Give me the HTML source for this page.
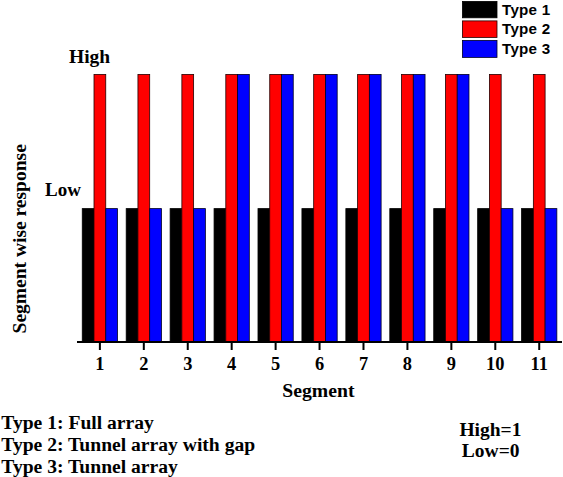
<!DOCTYPE html>
<html><head><meta charset="utf-8"><style>
html,body{margin:0;padding:0;background:#fff;}
body{width:563px;height:477px;overflow:hidden;position:relative;}
svg{position:absolute;left:0;top:0;}
.s{font-family:"Liberation Serif",serif;font-weight:bold;fill:#000;}
.a{font-family:"Liberation Sans",sans-serif;font-weight:bold;fill:#000;}
</style></head><body>
<svg width="563" height="477" viewBox="0 0 563 477">
<rect x="462.4" y="1.4" width="34.6" height="16.4" fill="#000" stroke="#000" stroke-width="0.8"/>
<rect x="462.4" y="20.9" width="34.6" height="16.5" fill="#f00" stroke="#200" stroke-width="0.8"/>
<rect x="462.4" y="40.4" width="34.6" height="17" fill="#00f" stroke="#002" stroke-width="0.8"/>
<text x="502" y="14.6" class="a" font-size="15.2" letter-spacing="0.25">Type 1</text>
<text x="502" y="34.3" class="a" font-size="15.2" letter-spacing="0.25">Type 2</text>
<text x="502" y="54" class="a" font-size="15.2" letter-spacing="0.25">Type 3</text>
<text x="69" y="63" class="s" font-size="19.5">High</text>
<text x="45" y="195.6" class="s" font-size="19">Low</text>
<text transform="translate(26,238.8) rotate(-90)" class="s" font-size="19.5" text-anchor="middle">Segment wise response</text>
<rect x="82.25" y="208.6" width="11.75" height="132.80" fill="#000" stroke="#000" stroke-width="0.8"/>
<rect x="94.00" y="74.4" width="11.75" height="267.00" fill="#f00" stroke="#200" stroke-width="0.8"/>
<rect x="105.75" y="208.6" width="11.75" height="132.80" fill="#00f" stroke="#002" stroke-width="0.8"/>
<rect x="126.19" y="208.6" width="11.75" height="132.80" fill="#000" stroke="#000" stroke-width="0.8"/>
<rect x="137.94" y="74.4" width="11.75" height="267.00" fill="#f00" stroke="#200" stroke-width="0.8"/>
<rect x="149.69" y="208.6" width="11.75" height="132.80" fill="#00f" stroke="#002" stroke-width="0.8"/>
<rect x="170.12" y="208.6" width="11.75" height="132.80" fill="#000" stroke="#000" stroke-width="0.8"/>
<rect x="181.87" y="74.4" width="11.75" height="267.00" fill="#f00" stroke="#200" stroke-width="0.8"/>
<rect x="193.62" y="208.6" width="11.75" height="132.80" fill="#00f" stroke="#002" stroke-width="0.8"/>
<rect x="214.06" y="208.6" width="11.75" height="132.80" fill="#000" stroke="#000" stroke-width="0.8"/>
<rect x="225.81" y="74.4" width="11.75" height="267.00" fill="#f00" stroke="#200" stroke-width="0.8"/>
<rect x="237.56" y="74.4" width="11.75" height="267.00" fill="#00f" stroke="#002" stroke-width="0.8"/>
<rect x="257.99" y="208.6" width="11.75" height="132.80" fill="#000" stroke="#000" stroke-width="0.8"/>
<rect x="269.74" y="74.4" width="11.75" height="267.00" fill="#f00" stroke="#200" stroke-width="0.8"/>
<rect x="281.49" y="74.4" width="11.75" height="267.00" fill="#00f" stroke="#002" stroke-width="0.8"/>
<rect x="301.93" y="208.6" width="11.75" height="132.80" fill="#000" stroke="#000" stroke-width="0.8"/>
<rect x="313.68" y="74.4" width="11.75" height="267.00" fill="#f00" stroke="#200" stroke-width="0.8"/>
<rect x="325.43" y="74.4" width="11.75" height="267.00" fill="#00f" stroke="#002" stroke-width="0.8"/>
<rect x="345.86" y="208.6" width="11.75" height="132.80" fill="#000" stroke="#000" stroke-width="0.8"/>
<rect x="357.61" y="74.4" width="11.75" height="267.00" fill="#f00" stroke="#200" stroke-width="0.8"/>
<rect x="369.36" y="74.4" width="11.75" height="267.00" fill="#00f" stroke="#002" stroke-width="0.8"/>
<rect x="389.80" y="208.6" width="11.75" height="132.80" fill="#000" stroke="#000" stroke-width="0.8"/>
<rect x="401.55" y="74.4" width="11.75" height="267.00" fill="#f00" stroke="#200" stroke-width="0.8"/>
<rect x="413.30" y="74.4" width="11.75" height="267.00" fill="#00f" stroke="#002" stroke-width="0.8"/>
<rect x="433.73" y="208.6" width="11.75" height="132.80" fill="#000" stroke="#000" stroke-width="0.8"/>
<rect x="445.48" y="74.4" width="11.75" height="267.00" fill="#f00" stroke="#200" stroke-width="0.8"/>
<rect x="457.23" y="74.4" width="11.75" height="267.00" fill="#00f" stroke="#002" stroke-width="0.8"/>
<rect x="477.67" y="208.6" width="11.75" height="132.80" fill="#000" stroke="#000" stroke-width="0.8"/>
<rect x="489.42" y="74.4" width="11.75" height="267.00" fill="#f00" stroke="#200" stroke-width="0.8"/>
<rect x="501.17" y="208.6" width="11.75" height="132.80" fill="#00f" stroke="#002" stroke-width="0.8"/>
<rect x="521.60" y="208.6" width="11.75" height="132.80" fill="#000" stroke="#000" stroke-width="0.8"/>
<rect x="533.35" y="74.4" width="11.75" height="267.00" fill="#f00" stroke="#200" stroke-width="0.8"/>
<rect x="545.10" y="208.6" width="11.75" height="132.80" fill="#00f" stroke="#002" stroke-width="0.8"/>
<rect x="77.0" y="341.0" width="485.0" height="2.0" fill="#000"/>
<rect x="98.88" y="342.0" width="2" height="8.0" fill="#000"/>
<text x="99.88" y="370.1" class="s" font-size="18.4" text-anchor="middle">1</text>
<rect x="142.81" y="342.0" width="2" height="8.0" fill="#000"/>
<text x="143.81" y="370.1" class="s" font-size="18.4" text-anchor="middle">2</text>
<rect x="186.75" y="342.0" width="2" height="8.0" fill="#000"/>
<text x="187.75" y="370.1" class="s" font-size="18.4" text-anchor="middle">3</text>
<rect x="230.68" y="342.0" width="2" height="8.0" fill="#000"/>
<text x="231.68" y="370.1" class="s" font-size="18.4" text-anchor="middle">4</text>
<rect x="274.62" y="342.0" width="2" height="8.0" fill="#000"/>
<text x="275.62" y="370.1" class="s" font-size="18.4" text-anchor="middle">5</text>
<rect x="318.55" y="342.0" width="2" height="8.0" fill="#000"/>
<text x="319.55" y="370.1" class="s" font-size="18.4" text-anchor="middle">6</text>
<rect x="362.49" y="342.0" width="2" height="8.0" fill="#000"/>
<text x="363.49" y="370.1" class="s" font-size="18.4" text-anchor="middle">7</text>
<rect x="406.42" y="342.0" width="2" height="8.0" fill="#000"/>
<text x="407.42" y="370.1" class="s" font-size="18.4" text-anchor="middle">8</text>
<rect x="450.36" y="342.0" width="2" height="8.0" fill="#000"/>
<text x="451.36" y="370.1" class="s" font-size="18.4" text-anchor="middle">9</text>
<rect x="494.29" y="342.0" width="2" height="8.0" fill="#000"/>
<text x="495.29" y="370.1" class="s" font-size="18.4" text-anchor="middle">10</text>
<rect x="538.23" y="342.0" width="2" height="8.0" fill="#000"/>
<text x="539.23" y="370.1" class="s" font-size="18.4" text-anchor="middle">11</text>
<text x="282.3" y="397.3" class="s" font-size="19.7">Segment</text>
<text x="1.3" y="428.7" class="s" font-size="19.6">Type 1: Full array</text>
<text x="1.3" y="450.7" class="s" font-size="19.6">Type 2: Tunnel array with gap</text>
<text x="1.3" y="472.5" class="s" font-size="19.6">Type 3: Tunnel array</text>
<text x="490.4" y="435.8" class="s" font-size="19.5" text-anchor="middle">High=1</text>
<text x="490.7" y="457.3" class="s" font-size="19.5" text-anchor="middle">Low=0</text>
</svg>
</body></html>
